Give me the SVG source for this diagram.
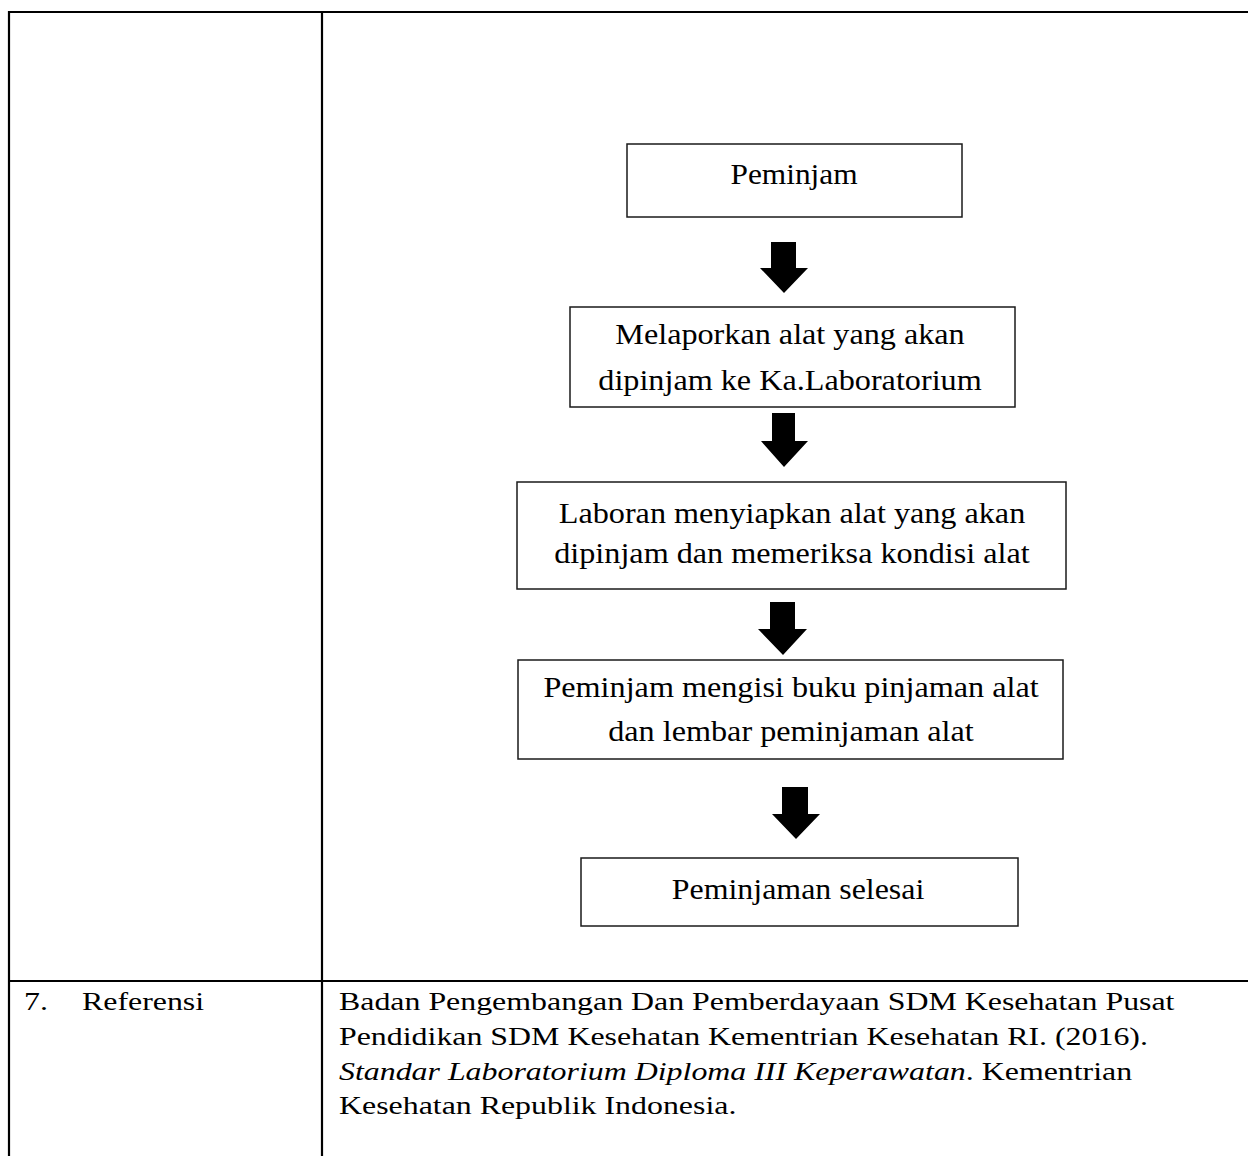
<svg xmlns="http://www.w3.org/2000/svg" width="1248" height="1156" viewBox="0 0 1248 1156">
<style>
.tbl{stroke:#000;stroke-width:2.2;fill:none}
.box{fill:#fff;stroke:#1a1a1a;stroke-width:1.5}
.ft{font-family:"Liberation Serif","Times New Roman",serif;font-size:28.5px;fill:#000;text-anchor:middle}
.rt{font-family:"Liberation Serif","Times New Roman",serif;font-size:25.5px;fill:#000}
.arr{fill:#000}
</style>
<rect width="1248" height="1156" fill="#fff"/>
<g id="table">
<line class="tbl" x1="9" y1="12" x2="1248" y2="12"/>
<line class="tbl" x1="9" y1="11" x2="9" y2="1156"/>
<line class="tbl" x1="322" y1="12" x2="322" y2="1156"/>
<line class="tbl" x1="9" y1="981" x2="1248" y2="981"/>
</g>
<g id="connectors">
<polygon class="arr" points="771,242 796,242 796,268 808,268 784,293 760,268 771,268"/>
<polygon class="arr" points="772,413 795,413 795,441 808,441 784,467 761,441 772,441"/>
<polygon class="arr" points="770,602 795,602 795,629 807,629 783,655 758,629 770,629"/>
<polygon class="arr" points="782,787 808,787 808,814 820,814 796,839 772,814 782,814"/>
</g>
<g id="node1">
<rect class="box" x="627" y="144" width="335" height="73"/>
<text class="ft" transform="translate(794,184) scale(1.1,1)">Peminjam</text>
</g>
<g id="node2">
<rect class="box" x="570" y="307" width="445" height="100"/>
<text class="ft" transform="translate(790,344) scale(1.13,1)">Melaporkan alat yang akan</text>
<text class="ft" transform="translate(790,390) scale(1.13,1)">dipinjam ke Ka.Laboratorium</text>
</g>
<g id="node3">
<rect class="box" x="517" y="482" width="549" height="107"/>
<text class="ft" transform="translate(792,523) scale(1.13,1)">Laboran menyiapkan alat yang akan</text>
<text class="ft" transform="translate(792,563) scale(1.13,1)">dipinjam dan memeriksa kondisi alat</text>
</g>
<g id="node4">
<rect class="box" x="518" y="660" width="545" height="99"/>
<text class="ft" transform="translate(791,697) scale(1.13,1)">Peminjam mengisi buku pinjaman alat</text>
<text class="ft" transform="translate(791,741) scale(1.13,1)">dan lembar peminjaman alat</text>
</g>
<g id="node5">
<rect class="box" x="581" y="858" width="437" height="68"/>
<text class="ft" transform="translate(798,899) scale(1.12,1)">Peminjaman selesai</text>
</g>
<g id="reference">
<text class="rt" transform="translate(24,1010) scale(1.25,1)">7.</text>
<text class="rt" transform="translate(82,1010) scale(1.25,1)">Referensi</text>
<text class="rt" transform="translate(339,1010) scale(1.25,1)">Badan Pengembangan Dan Pemberdayaan SDM Kesehatan Pusat</text>
<text class="rt" transform="translate(339,1045) scale(1.25,1)">Pendidikan SDM Kesehatan Kementrian Kesehatan RI. (2016).</text>
<text class="rt" transform="translate(339,1080) scale(1.25,1)"><tspan font-style="italic">Standar Laboratorium Diploma III Keperawatan</tspan>. Kementrian</text>
<text class="rt" transform="translate(339,1114) scale(1.25,1)">Kesehatan Republik Indonesia.</text>
</g>
</svg>
